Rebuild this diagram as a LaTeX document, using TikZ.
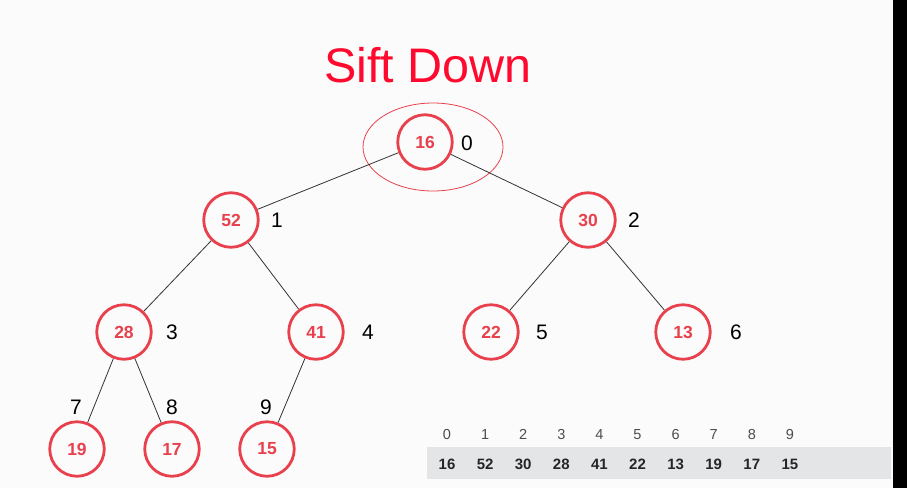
\documentclass[tikz,border=0pt]{standalone}
\usepackage{fontspec}
\setmainfont{Liberation Sans}
\definecolor{heapred}{HTML}{E8404C}
\definecolor{titlered}{HTML}{FF0A2E}
\definecolor{edgegray}{HTML}{333333}
\definecolor{bandgray}{HTML}{E4E5E6}
\definecolor{pagebg}{HTML}{FBFBFB}
\tikzset{
  heapnode/.style={circle, draw=heapred, line width=2.8pt, minimum size=54.5pt, inner sep=0pt,
    text=heapred, font=\fontsize{17.5}{17.5}\selectfont\bfseries},
  idxlabel/.style={font=\fontsize{21}{21}\selectfont, text=black, inner sep=0pt, anchor=base},
  heapedge/.style={draw=edgegray, line width=0.8pt},
  arridx/.style={font=\fontsize{14.5}{14.5}\selectfont, text=black!70, inner sep=0pt, anchor=base},
  arrval/.style={font=\fontsize{15}{15}\selectfont\bfseries, text=black!85, inner sep=0pt, anchor=base}
}
\begin{document}
\begin{tikzpicture}[x=1pt, y=-1pt]
  % page and right-hand frame
  \fill[pagebg] (0,0) rectangle (907,488);
  \fill[black] (893,0) rectangle (907,488);
  \useasboundingbox (0,0) rectangle (907,488);

  % title
  \node[text=titlered, font=\fontsize{48.5}{48.5}\selectfont, inner sep=0pt] (title) at (428,65) {Sift Down};

  % tree nodes
  \node[heapnode] (n0) at (425,142) {16};
  \node[heapnode] (n1) at (231,220) {52};
  \node[heapnode] (n2) at (588,220) {30};
  \node[heapnode] (n3) at (124,332) {28};
  \node[heapnode] (n4) at (316,332) {41};
  \node[heapnode] (n5) at (491,332) {22};
  \node[heapnode] (n6) at (683,332) {13};
  \node[heapnode] (n7) at (77,449) {19};
  \node[heapnode] (n8) at (172,449) {17};
  \node[heapnode] (n9) at (267,449) {15};

  % highlight around the node being sifted down
  \draw[heapred, line width=0.8pt] (433,147) ellipse [x radius=70, y radius=44];

  % index labels (placed by baseline)
  \node[idxlabel] (l0) at (467,150.5) {0};
  \node[idxlabel] (l1) at (277,227.5) {1};
  \node[idxlabel] (l2) at (634,227.5) {2};
  \node[idxlabel] (l3) at (172,339.5) {3};
  \node[idxlabel] (l4) at (368,339.5) {4};
  \node[idxlabel] (l5) at (542,339.5) {5};
  \node[idxlabel] (l6) at (736,339.5) {6};
  \node[idxlabel] (l7) at (76,414.5) {7};
  \node[idxlabel] (l8) at (172,414.5) {8};
  \node[idxlabel] (l9) at (266,414.5) {9};

  % edges
  \draw[heapedge] (n0) -- (n1);
  \draw[heapedge] (n0) -- (n2);
  \draw[heapedge] (n1) -- (n3);
  \draw[heapedge] (n1) -- (n4);
  \draw[heapedge] (n2) -- (n5);
  \draw[heapedge] (n2) -- (n6);
  \draw[heapedge] (n3) -- (n7);
  \draw[heapedge] (n3) -- (n8);
  \draw[heapedge] (n4) -- (n9);

  % array view
  \fill[bandgray] (427,447) rectangle (891,479);
  \foreach \i/\v in {0/16,1/52,2/30,3/28,4/41,5/22,6/13,7/19,8/17,9/15} {
    \node[arridx] (a\i) at ({447+38.1*\i},439) {\i};
    \node[arrval] (v\i) at ({447+38.1*\i},469.5) {\v};
  }
\end{tikzpicture}
\end{document}
